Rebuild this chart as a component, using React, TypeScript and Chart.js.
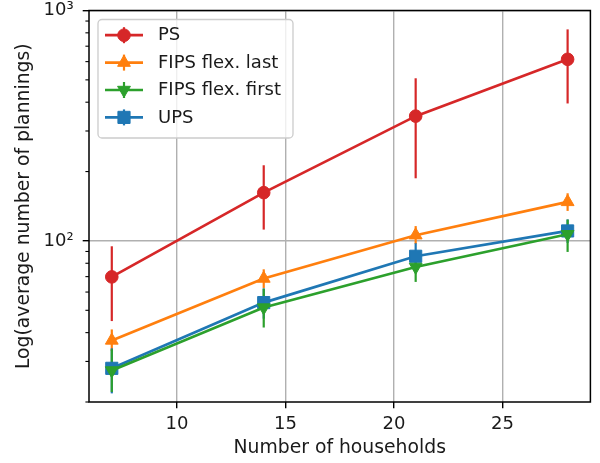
import React, { useEffect, useRef } from 'react';
import { Chart, registerables } from 'chart.js';

Chart.register(...registerables);

// ---------- data ----------
const households = [7, 14, 21, 28];

const seriesLabels = ['PS', 'FIPS flex. last', 'FIPS flex. first', 'UPS'];

const psMean = [69.8, 162, 348, 614];
const psLow = [44.9, 112, 187, 395];
const psHigh = [94.8, 213, 508, 828];

const lastMean = [37.0, 68.7, 105.9, 147.7];
const lastLow = [33.3, 62.5, 97, 135];
const lastHigh = [41.3, 75.3, 116, 161];

const firstMean = [27.4, 51.4, 77.1, 106.9];
const firstLow = [22.1, 42.1, 66.4, 89.6];
const firstHigh = [33.9, 62, 89.5, 123.8];

const upsMean = [28.0, 54.0, 85.8, 110.5];
const upsLow = [21.8, 46, 75, 98];
const upsHigh = [34.2, 62.3, 97.7, 124];

const xTicks = [10, 15, 20, 25];
const yMajorTicks = [100, 1000];
const yMajorLabels = ['10²', '10³'];
const yMinorTicks = [20, 30, 40, 50, 60, 70, 80, 90, 200, 300, 400, 500, 600, 700, 800, 900];

// ---------- style ----------
const FONT = 'DejaVu Sans';
const TEXT = '#1a1a1a';
const RED = '#d62728';
const ORANGE = '#ff7f0e';
const GREEN = '#2ca02c';
const BLUE = '#1f77b4';

type Series = {
  label: string;
  color: string;
  mean: number[];
  low: number[];
  high: number[];
  style: string;
  radius: number;
  rotation: number;
  order: number;
};

const series: Series[] = [
  { label: seriesLabels[0], color: RED, mean: psMean, low: psLow, high: psHigh, style: 'circle', radius: 6.3, rotation: 0, order: 4 },
  { label: seriesLabels[1], color: ORANGE, mean: lastMean, low: lastLow, high: lastHigh, style: 'triangle', radius: 7.4, rotation: 0, order: 3 },
  { label: seriesLabels[2], color: GREEN, mean: firstMean, low: firstLow, high: firstHigh, style: 'triangle', radius: 7.4, rotation: 180, order: 1 },
  { label: seriesLabels[3], color: BLUE, mean: upsMean, low: upsLow, high: upsHigh, style: 'rect', radius: 8.6, rotation: 0, order: 2 },
];

// draw order bottom -> top
const drawOrder = [0, 1, 3, 2];

function drawMarker(ctx: CanvasRenderingContext2D, s: Series, x: number, y: number) {
  ctx.beginPath();
  if (s.style === 'circle') {
    ctx.arc(x, y, s.radius, 0, Math.PI * 2);
  } else if (s.style === 'rect') {
    const h = s.radius * Math.SQRT1_2;
    ctx.rect(x - h, y - h, 2 * h, 2 * h);
  } else {
    let rad = (s.rotation * Math.PI) / 180;
    for (let k = 0; k < 3; k++) {
      const px = x + Math.sin(rad) * s.radius;
      const py = y - Math.cos(rad) * s.radius;
      if (k === 0) ctx.moveTo(px, py);
      else ctx.lineTo(px, py);
      rad += (2 * Math.PI) / 3;
    }
  }
  ctx.closePath();
  ctx.fill();
  ctx.stroke();
}

const errorBarPlugin = {
  id: 'errorBars',
  beforeDatasetsDraw(chart: any) {
    const { ctx } = chart;
    const xs = chart.scales.x;
    const ys = chart.scales.y;
    ctx.save();
    ctx.lineWidth = 2.2;
    ctx.lineCap = 'butt';
    drawOrder.forEach((si) => {
      const s = series[si];
      ctx.strokeStyle = s.color;
      households.forEach((h, i) => {
        const px = xs.getPixelForValue(h);
        ctx.beginPath();
        ctx.moveTo(px, ys.getPixelForValue(s.low[i]));
        ctx.lineTo(px, ys.getPixelForValue(s.high[i]));
        ctx.stroke();
      });
    });
    ctx.restore();
  },
};

const framePlugin = {
  id: 'frameAndLegend',
  afterDraw(chart: any) {
    const { ctx, chartArea } = chart;
    const ys = chart.scales.y;
    const { left, top, right, bottom } = chartArea;
    ctx.save();
    // minor ticks on the log axis
    ctx.strokeStyle = '#000';
    ctx.lineWidth = 1.1;
    yMinorTicks.forEach((v) => {
      const py = ys.getPixelForValue(v);
      ctx.beginPath();
      ctx.moveTo(left, py);
      ctx.lineTo(left - 3.6, py);
      ctx.stroke();
    });
    // frame
    ctx.lineWidth = 1.5;
    ctx.strokeStyle = '#000';
    ctx.strokeRect(left, top, right - left, bottom - top);

    // legend
    const bx = left + 9;
    const by = top + 9;
    const bw = 195;
    const bh = 118.5;
    const r = 4;
    ctx.beginPath();
    ctx.moveTo(bx + r, by);
    ctx.lineTo(bx + bw - r, by);
    ctx.arcTo(bx + bw, by, bx + bw, by + r, r);
    ctx.lineTo(bx + bw, by + bh - r);
    ctx.arcTo(bx + bw, by + bh, bx + bw - r, by + bh, r);
    ctx.lineTo(bx + r, by + bh);
    ctx.arcTo(bx, by + bh, bx, by + bh - r, r);
    ctx.lineTo(bx, by + r);
    ctx.arcTo(bx, by, bx + r, by, r);
    ctx.closePath();
    ctx.fillStyle = 'rgba(255,255,255,0.8)';
    ctx.fill();
    ctx.strokeStyle = '#cccccc';
    ctx.lineWidth = 1.3;
    ctx.stroke();

    const rows = [15.7, 43.1, 70.5, 97.9];
    series.forEach((s, i) => {
      const ry = by + rows[i];
      const x1 = bx + 7;
      const x2 = bx + 45;
      const cx = (x1 + x2) / 2;
      ctx.strokeStyle = s.color;
      ctx.lineWidth = 2.2;
      ctx.beginPath();
      ctx.moveTo(cx, ry - 8);
      ctx.lineTo(cx, ry + 8);
      ctx.stroke();
      ctx.lineWidth = 2.7;
      ctx.beginPath();
      ctx.moveTo(x1, ry);
      ctx.lineTo(x2, ry);
      ctx.stroke();
      ctx.fillStyle = s.color;
      ctx.strokeStyle = s.color;
      ctx.lineWidth = 1;
      drawMarker(ctx, s, cx, ry);
      ctx.fillStyle = TEXT;
      ctx.font = `18px "${FONT}"`;
      ctx.textAlign = 'left';
      ctx.textBaseline = 'middle';
      ctx.fillText(s.label, bx + 60, ry + 0.5);
    });
    ctx.restore();
  },
};

export default function App() {
  const ref = useRef<HTMLCanvasElement | null>(null);

  useEffect(() => {
    document.body.style.margin = '0';
    if (!ref.current) return;
    const datasets = series.map((s) => ({
      label: s.label,
      data: households.map((h, i) => ({ x: h, y: s.mean[i] })),
      borderColor: s.color,
      backgroundColor: s.color,
      borderWidth: 2.7,
      pointStyle: s.style,
      pointRadius: s.radius,
      pointRotation: s.rotation,
      pointBorderWidth: 1,
      pointBackgroundColor: s.color,
      pointBorderColor: s.color,
      tension: 0,
      fill: false,
      order: s.order,
      clip: false as any,
    }));
    const chart = new Chart(ref.current, {
      type: 'line',
      data: { datasets },
      options: {
        animation: false,
        responsive: false,
        devicePixelRatio: 1,
        layout: { padding: { top: 10.5, right: 8, left: 0, bottom: 0 } },
        plugins: { legend: { display: false }, tooltip: { enabled: false } },
        scales: {
          x: {
            type: 'linear',
            min: 5.95,
            max: 29.05,
            afterBuildTicks: (s: any) => {
              s.ticks = xTicks.map((v) => ({ value: v }));
            },
            afterFit: (s: any) => {
              s.height = 61;
              s.paddingLeft = 0;
              s.paddingRight = 0;
            },
            grid: {
              color: '#b0b0b0',
              lineWidth: 1.4,
              tickColor: '#000',
              tickWidth: 1.4,
              tickLength: 6.3,
              drawTicks: true,
            },
            border: { display: false },
            ticks: {
              font: { family: FONT, size: 18 },
              color: TEXT,
              padding: 5,
              maxRotation: 0,
              autoSkip: false,
              callback: (v: any) => String(v),
            },
            title: {
              display: true,
              text: 'Number of households',
              font: { family: FONT, size: 18.8 },
              color: TEXT,
              padding: { top: 0, bottom: 4 },
            },
          },
          y: {
            type: 'logarithmic',
            min: 20,
            max: 1000,
            afterBuildTicks: (s: any) => {
              s.ticks = yMajorTicks.map((v) => ({ value: v, major: true }));
            },
            afterFit: (s: any) => {
              s.width = 89;
              s.paddingTop = 0;
              s.paddingBottom = 0;
            },
            grid: {
              color: '#b0b0b0',
              lineWidth: 1.4,
              tickColor: '#000',
              tickWidth: 1.4,
              tickLength: 6.3,
              drawTicks: true,
            },
            border: { display: false },
            ticks: {
              font: { family: FONT, size: 18 },
              color: TEXT,
              padding: 9,
              autoSkip: false,
              callback: (v: any) => {
                const idx = yMajorTicks.indexOf(Number(v));
                return idx >= 0 ? yMajorLabels[idx] : '';
              },
            },
            title: {
              display: true,
              text: 'Log(average number of plannings)',
              font: { family: FONT, size: 18.8 },
              color: TEXT,
              padding: { top: 13, bottom: 0 },
            },
          },
        },
      },
      plugins: [errorBarPlugin, framePlugin],
    });
    return () => chart.destroy();
  }, []);

  return (
    <div style={{ width: 600, height: 463 }}>
      <canvas ref={ref} width={600} height={463} />
    </div>
  );
}
